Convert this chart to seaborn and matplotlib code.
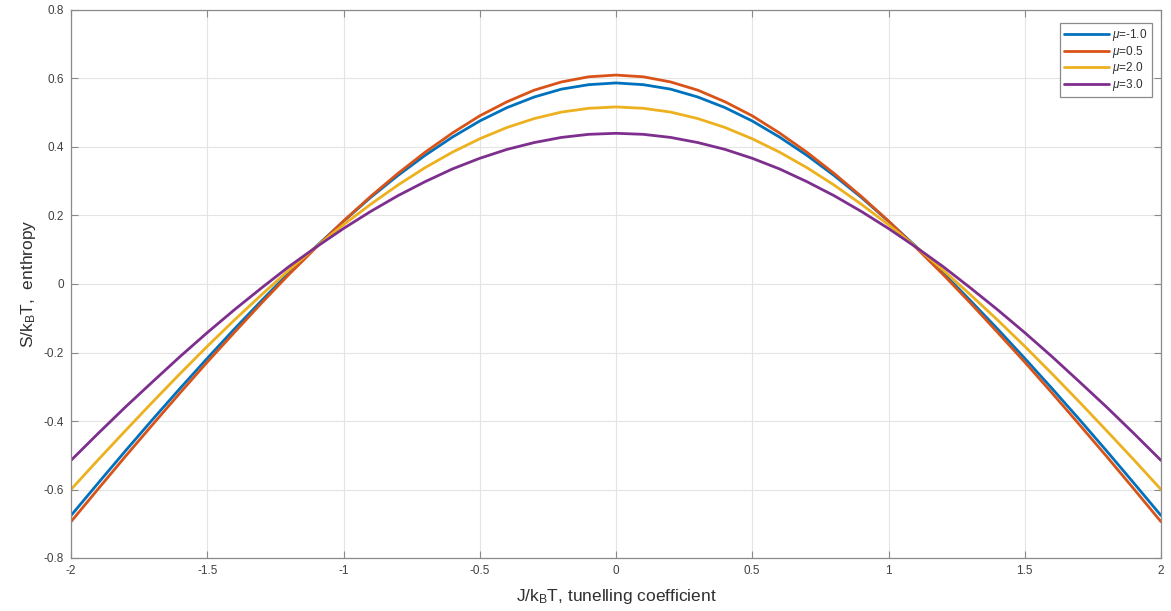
import numpy as np
import pandas as pd
import matplotlib
matplotlib.use("Agg")
import matplotlib.pyplot as plt
import seaborn as sns
from matplotlib.ticker import FuncFormatter, MultipleLocator

x_vals = [-2.0, -1.9, -1.8, -1.7, -1.6, -1.5, -1.4, -1.3, -1.2, -1.1, -1.0,
          -0.9, -0.8, -0.7, -0.6, -0.5, -0.4, -0.3, -0.2, -0.1, 0.0,
          0.1, 0.2, 0.3, 0.4, 0.5, 0.6, 0.7, 0.8, 0.9, 1.0,
          1.1, 1.2, 1.3, 1.4, 1.5, 1.6, 1.7, 1.8, 1.9, 2.0]

mu_labels = ["-1.0", "0.5", "2.0", "3.0"]

s_mu_m1 = [-0.676, -0.581, -0.487, -0.395, -0.305, -0.217, -0.131, -0.048, 0.033, 0.110, 0.183,
           0.253, 0.317, 0.376, 0.429, 0.476, 0.515, 0.546, 0.569, 0.582, 0.587,
           0.582, 0.569, 0.546, 0.515, 0.476, 0.429, 0.376, 0.317, 0.253, 0.183,
           0.110, 0.033, -0.048, -0.131, -0.217, -0.305, -0.395, -0.487, -0.581, -0.676]

s_mu_05 = [-0.694, -0.598, -0.503, -0.410, -0.318, -0.228, -0.141, -0.055, 0.028, 0.107, 0.184,
           0.256, 0.323, 0.385, 0.441, 0.491, 0.532, 0.566, 0.590, 0.605, 0.610,
           0.605, 0.590, 0.566, 0.532, 0.491, 0.441, 0.385, 0.323, 0.256, 0.184,
           0.107, 0.028, -0.055, -0.141, -0.228, -0.318, -0.410, -0.503, -0.598, -0.694]

s_mu_20 = [-0.600, -0.513, -0.428, -0.344, -0.262, -0.182, -0.105, -0.031, 0.041, 0.109, 0.173,
           0.233, 0.289, 0.340, 0.385, 0.424, 0.457, 0.483, 0.502, 0.513, 0.517,
           0.513, 0.502, 0.483, 0.457, 0.424, 0.385, 0.340, 0.289, 0.233, 0.173,
           0.109, 0.041, -0.031, -0.105, -0.182, -0.262, -0.344, -0.428, -0.513, -0.600]

s_mu_30 = [-0.515, -0.436, -0.359, -0.285, -0.212, -0.142, -0.075, -0.011, 0.051, 0.108, 0.162,
           0.212, 0.258, 0.299, 0.336, 0.367, 0.393, 0.413, 0.428, 0.437, 0.440,
           0.437, 0.428, 0.413, 0.393, 0.367, 0.336, 0.299, 0.258, 0.212, 0.162,
           0.108, 0.051, -0.011, -0.075, -0.142, -0.212, -0.285, -0.359, -0.436, -0.515]

colors = ["#0072BD", "#D95319", "#EDB120", "#7E2F8E"]

series = [s_mu_m1, s_mu_05, s_mu_20, s_mu_30]
rows = []
for lab, ys in zip(mu_labels, series):
    for xv, yv in zip(x_vals, ys):
        rows.append({"J": xv, "S": yv, "mu": r"$\mu$=" + lab})
df = pd.DataFrame(rows)
hue_order = [r"$\mu$=" + l for l in mu_labels]

sns.set_theme(style="whitegrid")
plt.rcParams["font.family"] = ["Liberation Sans", "DejaVu Sans"]
plt.rcParams["axes.unicode_minus"] = False
plt.rcParams["mathtext.fontset"] = "custom"
plt.rcParams["mathtext.it"] = "Liberation Sans:italic"
plt.rcParams["mathtext.rm"] = "Liberation Sans"

fig = plt.figure(figsize=(11.71, 6.11), dpi=100)
ax = fig.add_axes([71/1171, 1-558/611, (1161-71)/1171, (558-10)/611])

sns.lineplot(data=df, x="J", y="S", hue="mu", hue_order=hue_order,
             palette=colors, linewidth=2.0, ax=ax, sort=True, estimator=None)

ax.set_xlim(-2, 2)
ax.set_ylim(-0.8, 0.8)
ax.xaxis.set_major_locator(MultipleLocator(0.5))
ax.yaxis.set_major_locator(MultipleLocator(0.2))
fmt = FuncFormatter(lambda v, p: ("%g" % round(v, 2)) if abs(v) > 1e-9 else "0")
ax.xaxis.set_major_formatter(fmt)
ax.yaxis.set_major_formatter(fmt)

ax.grid(True, color="#e4e4e4", linewidth=0.8)
for sp in ax.spines.values():
    sp.set_color("#8a8a8a")
    sp.set_linewidth(0.9)
ax.tick_params(direction="in", length=5, width=0.8, color="#8a8a8a",
               labelsize=8.5, labelcolor="#404040", top=True, right=True,
               bottom=True, left=True, pad=5)

ax.set_xlabel(r"J/k$_\mathrm{B}$T, tunelling coefficient", fontsize=12.5, color="#303030", labelpad=7)
ax.set_ylabel(r"S/k$_\mathrm{B}$T,  enthropy", fontsize=12.5, color="#303030", labelpad=4)

leg = ax.legend(loc="upper right", bbox_to_anchor=(1 - 9/1090, 1 - 13/548),
                fontsize=8.5, frameon=True, fancybox=False, framealpha=1,
                edgecolor="#8a8a8a", handlelength=3.8, handletextpad=0.3,
                borderpad=0.35, labelspacing=0.05, borderaxespad=0)
leg.get_frame().set_linewidth(0.9)
for t in leg.get_texts():
    t.set_color("#303030")

fig.savefig("out.png", dpi=100)
